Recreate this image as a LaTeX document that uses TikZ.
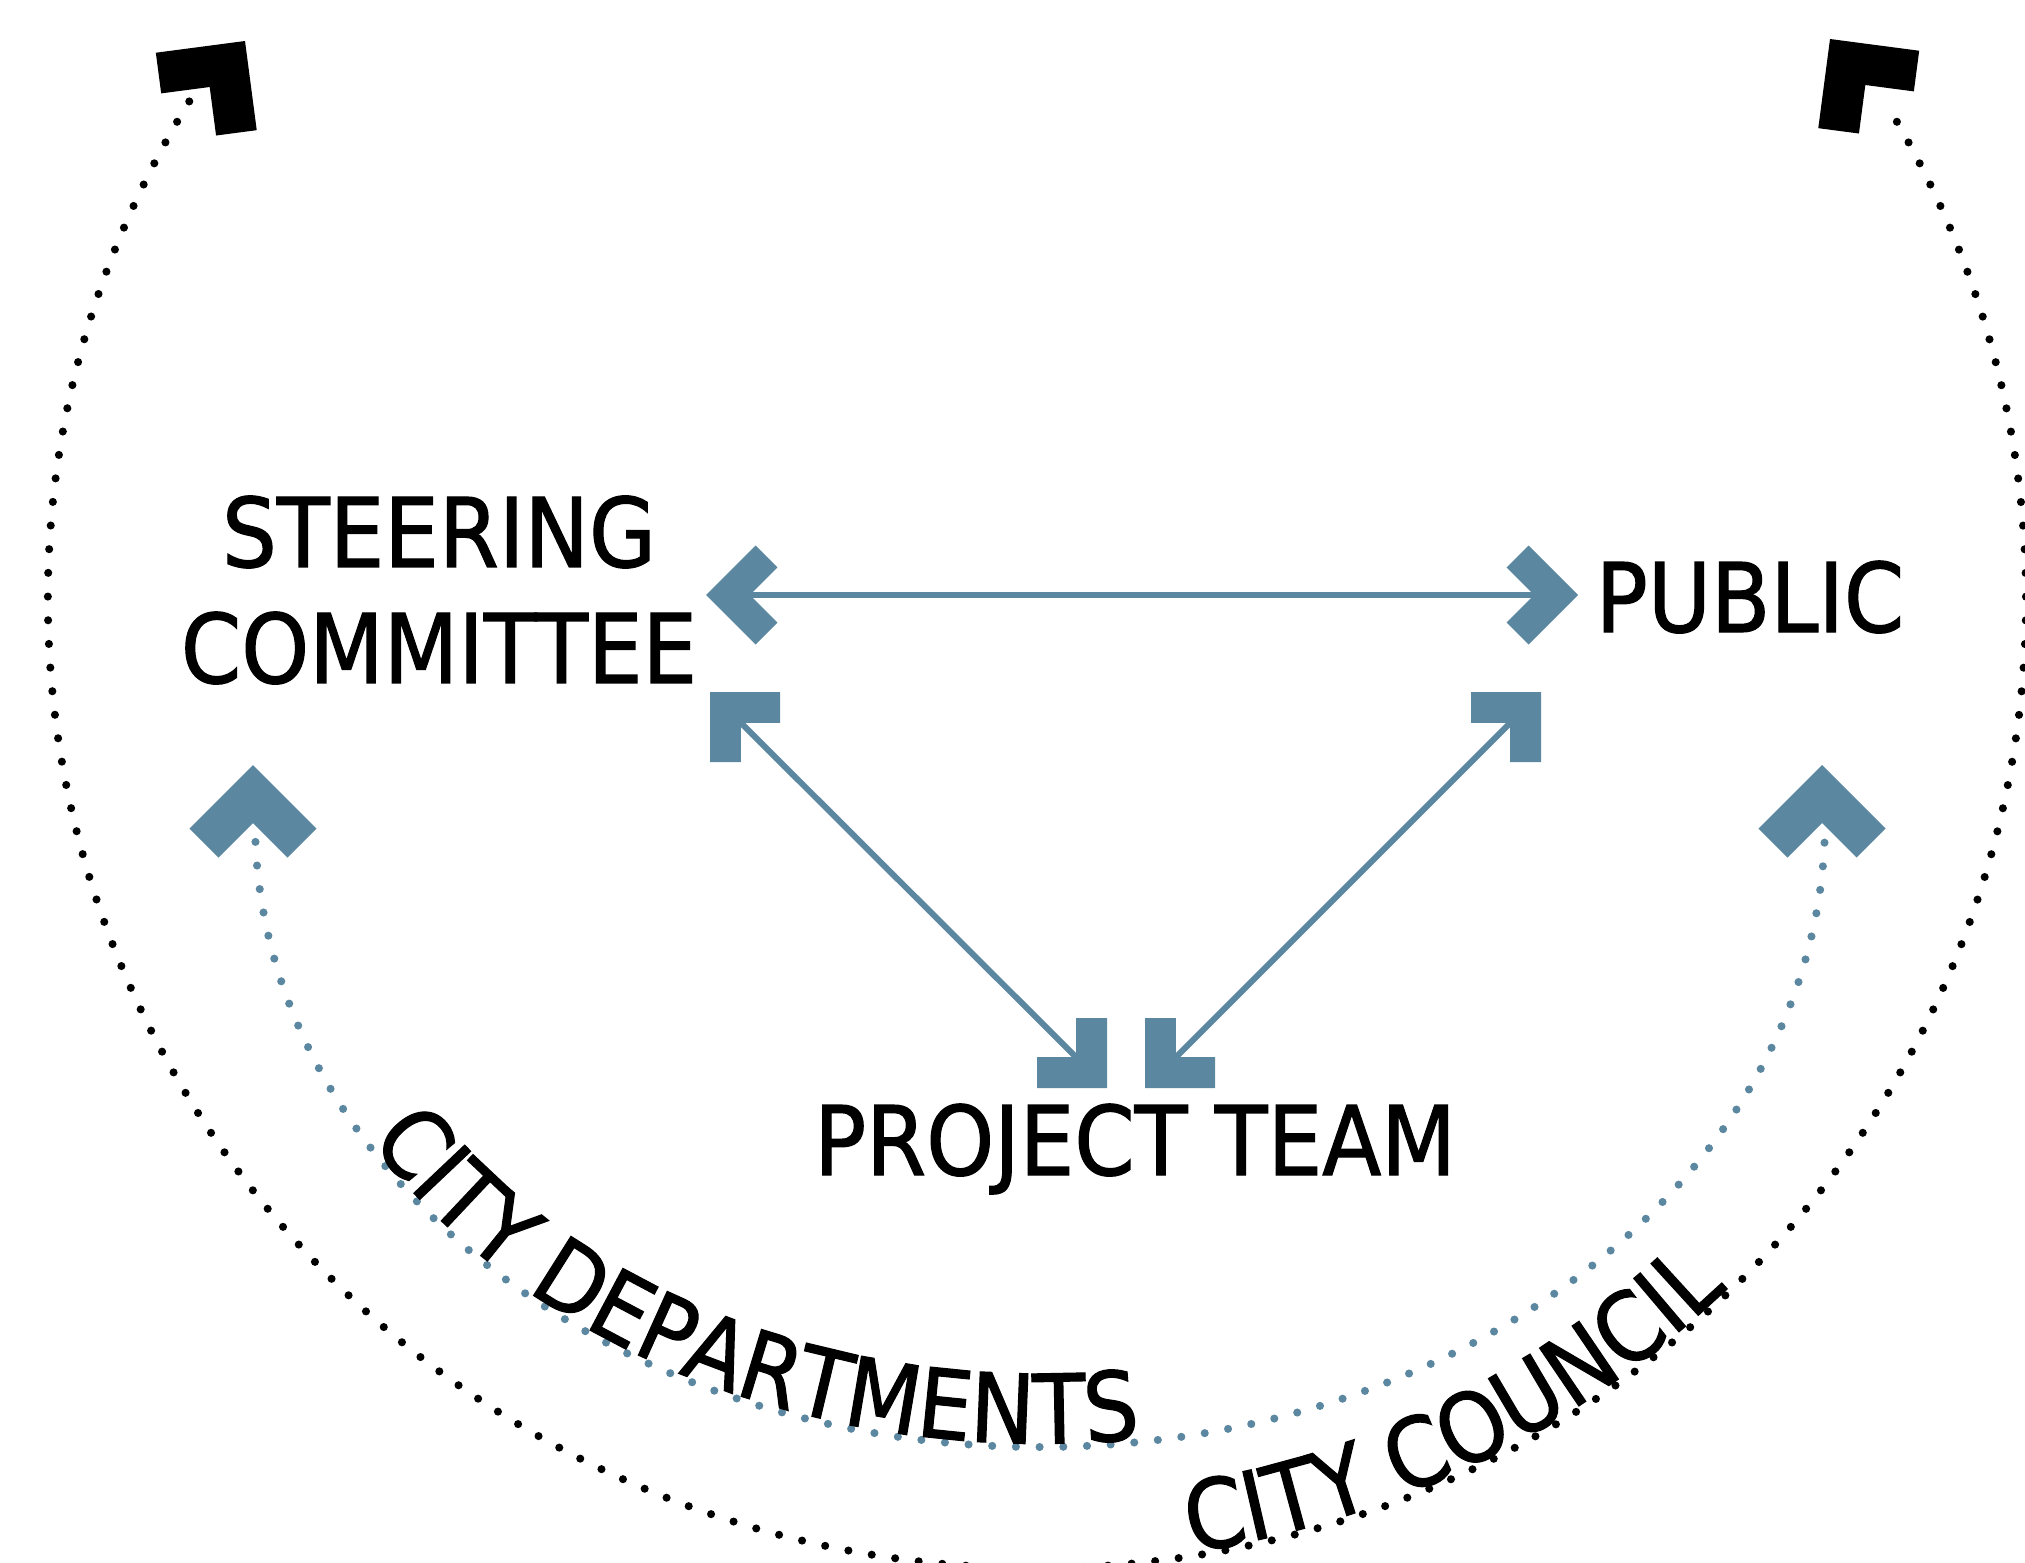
\documentclass[tikz,border=0pt]{standalone}
\usepackage{fontspec}
\setmainfont{DejaVu Sans}[FakeStretch=0.9, FakeBold=1.2]
\usetikzlibrary{calc,decorations.text}
\definecolor{steel}{RGB}{92,135,160}
\newcommand{\lblfont}{\fontsize{27.3}{33}\selectfont}

\begin{document}
\begin{tikzpicture}[x=0.01cm, y=0.01cm]
  \tikzset{
    lbl/.style={font=\lblfont, inner sep=0pt},
    link/.style={steel, line width=1.7pt, shorten <=0.3cm, shorten >=0.3cm},
    dotpath/.style={line width=2.3pt, line cap=round, dash pattern=on 0pt off 6.74pt},
    pics/chevsmall/.style={code={
      \fill (0,0) -- (-49.5,49.5) -- (-71.4,27.6) -- (-43.8,0)
        -- (-71.4,-27.6) -- (-49.5,-49.5) -- cycle;}},
    pics/chevbig/.style={code={
      \fill (0,0) -- (-63.6,63.6) -- (-92.6,34.6) -- (-58,0)
        -- (-92.6,-34.6) -- (-63.6,-63.6) -- cycle;}}
  }
  \useasboundingbox (0,0) rectangle (2025,1562);

  % the three parties
  \node[lbl, align=center] (steer) at (439,972) {STEERING\\COMMITTEE};
  \node[lbl, anchor=base] (pub) at (1750,930) {PUBLIC};
  \node[lbl, anchor=base] (team) at (1135,387) {PROJECT TEAM};

  % arrow ends
  \coordinate (scR) at (706,967);
  \coordinate (pbL) at (1578,967);
  \coordinate (scD) at (710,870);
  \coordinate (ptL) at (1107,474);
  \coordinate (ptR) at (1145,474);
  \coordinate (pbD) at (1541,870);

  \draw[link] (scR) -- (pbL);
  \draw[link] (scD) -- (ptL);
  \draw[link] (ptR) -- (pbD);
  \pic[steel, rotate=180] at (scR) {chevsmall};
  \pic[steel] at (pbL) {chevsmall};
  \pic[steel, rotate=135] at (scD) {chevsmall};
  \pic[steel, rotate=-45] at (ptL) {chevsmall};
  \pic[steel, rotate=-135] at (ptR) {chevsmall};
  \pic[steel, rotate=45] at (pbD) {chevsmall};

  % city departments
  \coordinate (cin) at (1040,742);
  \coordinate (depS) at ($(cin)+(182:785 and 627)$);
  \coordinate (depT) at ($(cin)+(211:785 and 627)$);
  \coordinate (depL) at (253,797);
  \coordinate (depR) at (1822,797);
  \draw[steel, dotpath] (depS) arc[start angle=182, end angle=358, x radius=785, y radius=627];
  \pic[steel, rotate=90] at (depL) {chevbig};
  \pic[steel, rotate=90] at (depR) {chevbig};
  \path[decorate, decoration={text along path, raise=1pt,
      text={|\lblfont|CITY DEPARTMENTS}}]
    (depT) arc[start angle=211, end angle=300, x radius=785, y radius=627];

  % city council
  \coordinate (cout) at (1037,962);
  \coordinate (cclS) at ($(cout)+(149:989 and 968)$);
  \coordinate (cclT) at ($(cout)+(279:989 and 968)$);
  \coordinate (cclL) at (245,1521);
  \coordinate (cclR) at (1830,1523);
  \draw[dotpath] (cclS) arc[start angle=149, end angle=391, x radius=989, y radius=968];
  \pic[rotate=52.5] at (cclL) {chevbig};
  \pic[rotate=127.5] at (cclR) {chevbig};
  \path[decorate, decoration={text along path, raise=1pt,
      text={|\lblfont|CITY COUNCIL}}]
    (cclT) arc[start angle=279, end angle=345, x radius=989, y radius=968];
\end{tikzpicture}
\end{document}
